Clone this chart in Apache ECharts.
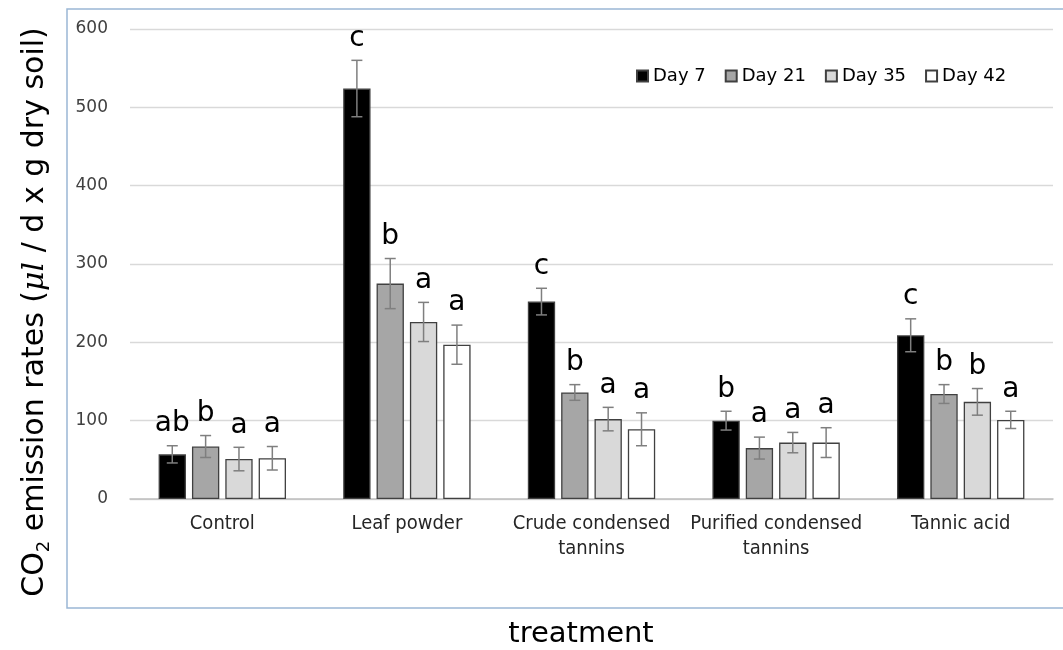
<!DOCTYPE html>
<html>
<head>
<meta charset="utf-8">
<script src="https://cdn.jsdelivr.net/npm/echarts@6/dist/echarts.min.js"></script>
<style>html,body{margin:0;padding:0;background:#fff;}#main{width:1063px;height:650px;}</style>
</head>
<body>
<div id="main"></div>
<script>
const categories = ['Control', 'Leaf powder', 'Crude condensed\ntannins', 'Purified condensed\ntannins', 'Tannic acid'];
const seriesNames = ['Day 7', 'Day 21', 'Day 35', 'Day 42'];
const day7 = [57, 524, 252, 100, 209];
const day21 = [67, 275, 136, 65, 134];
const day35 = [51, 226, 102, 72, 124];
const day42 = [52, 197, 89, 72, 101];
const err7 = [11, 36, 17, 12, 21];
const err21 = [14, 32, 10, 14, 12];
const err35 = [15, 25, 15, 13, 17];
const err42 = [15, 25, 21, 19, 11];
const let7 = ['ab', 'c', 'c', 'b', 'c'];
const let21 = ['b', 'b', 'b', 'a', 'b'];
const let35 = ['a', 'a', 'a', 'a', 'b'];
const let42 = ['a', 'a', 'a', 'a', 'a'];
const yTicks = [0, 100, 200, 300, 400, 500, 600];

const values = [day7, day21, day35, day42];
const errs = [err7, err21, err35, err42];
const letters = [let7, let21, let35, let42];
const colors = ['#000000', '#a6a6a6', '#d9d9d9', '#ffffff'];

const CAT_GAP = 0.31, BAR_GAP = 0.22, N = 4;

const chart = echarts.init(document.getElementById('main'));

const barSeries = seriesNames.map((name, k) => ({
  name: name,
  type: 'bar',
  data: values[k],
  barCategoryGap: (CAT_GAP * 100) + '%',
  barGap: (BAR_GAP * 100) + '%',
  itemStyle: { color: colors[k], borderColor: '#404040', borderWidth: 1.3 },
  emphasis: { disabled: true },
  z: 2
}));

const errSeries = seriesNames.map((name, k) => ({
  name: name + ' err',
  type: 'custom',
  z: 5,
  data: categories.map((c, i) => [i, values[k][i], errs[k][i]]),
  encode: { x: 0, y: 1 },
  renderItem: function (params, api) {
    const i = api.value(0), v = api.value(1), e = api.value(2);
    const w = api.size([1, 0])[0];
    const usable = w * (1 - CAT_GAP);
    const bw = usable / (N + (N - 1) * BAR_GAP);
    const off = -usable / 2 + bw / 2 + k * bw * (1 + BAR_GAP);
    const c = api.coord([i, v]);
    const x = c[0] + off;
    const top = api.coord([i, v + e])[1];
    const bot = api.coord([i, v - e])[1];
    const st = { stroke: '#7f7f7f', lineWidth: 1.5 };
    return {
      type: 'group',
      children: [
        { type: 'line', shape: { x1: x, y1: top, x2: x, y2: bot }, style: st },
        { type: 'line', shape: { x1: x - 5.5, y1: top, x2: x + 5.5, y2: top }, style: st },
        { type: 'line', shape: { x1: x - 5.5, y1: bot, x2: x + 5.5, y2: bot }, style: st },
        { type: 'text', x: x, y: top - 8, style: { text: letters[k][params.dataIndex], fill: '#000', font: '28px "DejaVu Sans"', textAlign: 'center', textVerticalAlign: 'bottom' } }
      ]
    };
  }
}));

chart.setOption({
  animation: false,
  backgroundColor: '#ffffff',
  grid: { left: 130, right: 10, top: 29, bottom: 151, containLabel: false },
  legend: {
    data: seriesNames,
    left: 631, top: 62,
    itemWidth: 11, itemHeight: 11, itemGap: 19,
    icon: 'rect',
    textStyle: { fontSize: 18, color: '#000', fontFamily: 'DejaVu Sans' }
  },
  xAxis: {
    type: 'category',
    data: categories,
    axisLine: { lineStyle: { color: '#bfbfbf', width: 1.5 } },
    axisTick: { show: false },
    axisLabel: { fontSize: 20, lineHeight: 25, color: '#262626', fontFamily: '"DejaVu Sans Condensed", "Liberation Sans Narrow", sans-serif', margin: 12, interval: 0 }
  },
  yAxis: {
    type: 'value',
    min: yTicks[0], max: yTicks[yTicks.length - 1], interval: 100,
    axisLine: { show: false },
    axisTick: { show: false },
    splitLine: { lineStyle: { color: '#d9d9d9', width: 1.3 } },
    axisLabel: { fontSize: 17, color: '#404040', fontFamily: 'DejaVu Sans', margin: 22 }
  },
  graphic: [
    { type: 'rect', shape: { x: 67, y: 9, width: 1010, height: 599 }, style: { fill: 'none', stroke: '#9ab7d5', lineWidth: 1.5 }, z: 0, silent: true },
    { type: 'text', x: 581, y: 634, style: { text: 'treatment', font: '29px "DejaVu Sans"', fill: '#000', textAlign: 'center', textVerticalAlign: 'middle' }, z: 10 },
    { type: 'text', x: 35, y: 312, rotation: Math.PI / 2,
      style: {
        text: '{m|CO}{s|2}{m| emission rates (}{i|μl}{m| / d x g dry soil)}',
        textAlign: 'center', textVerticalAlign: 'middle', fill: '#000',
        rich: {
          m: { fontSize: 30, fontFamily: 'DejaVu Sans', lineHeight: 36, fill: '#000' },
          s: { fontSize: 18, fontFamily: 'DejaVu Sans', lineHeight: 16, verticalAlign: 'bottom', fill: '#000' },
          i: { fontSize: 30, fontFamily: 'DejaVu Serif', fontStyle: 'italic', lineHeight: 36, fill: '#000' }
        }
      }, z: 10 }
  ],
  series: barSeries.concat(errSeries)
});
</script>
</body>
</html>
